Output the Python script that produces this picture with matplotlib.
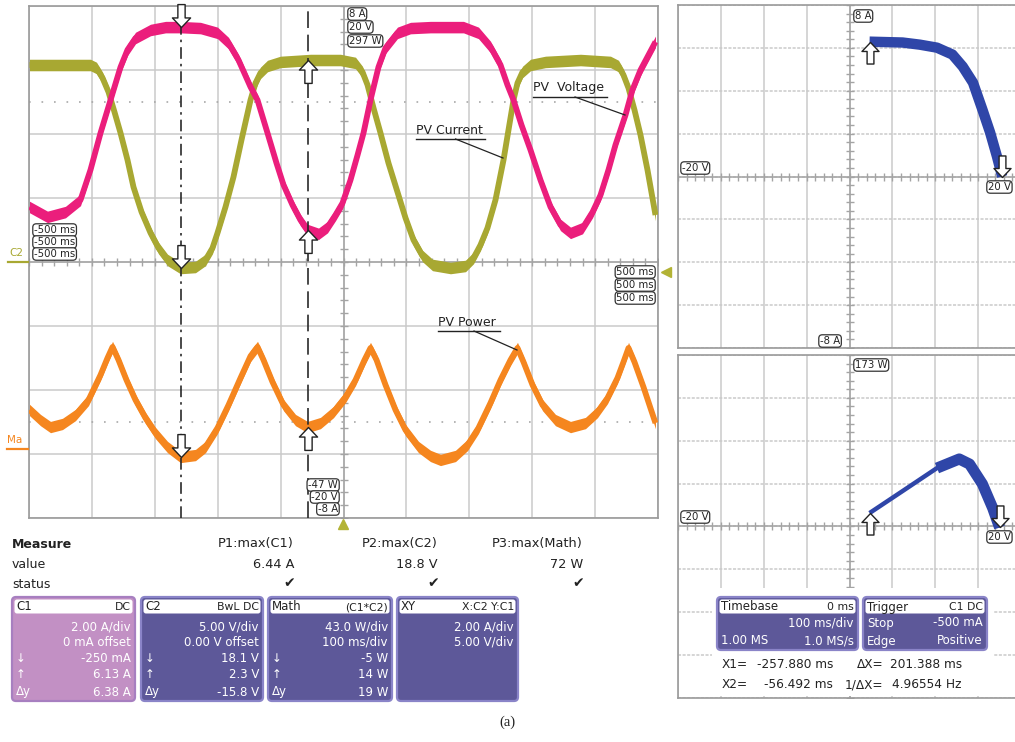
import numpy as np
import matplotlib
matplotlib.use("Agg")
import matplotlib.pyplot as plt
from matplotlib.path import Path
from matplotlib.patches import FancyBboxPatch, Rectangle

plt.rcParams["font.family"] = ["DejaVu Sans"]

# ---------------- data ----------------
# C1 trace (pink), time in ms, value in A (screen range -8..8 A)
c1_t = [-499.2, -470.6, -442.0, -418.1, -402.2, -386.3, -370.4, -354.5, -343.4, -330.6, -306.8,
        -282.9, -259.1, -227.3, -200.3, -182.8, -166.9, -147.8, -136.7, -120.8, -106.5, -95.4,
        -81.1, -68.4, -57.2, -39.7, -25.4, -12.7, -1.6, 11.1, 22.3, 31.8, 42.9, 55.6, 66.8,
        85.8, 106.5, 138.3, 190.8, 214.6, 233.7, 249.6, 260.7, 270.3, 283.0, 297.3, 313.2,
        329.1, 345.0, 360.9, 380.0, 395.9, 408.6, 421.3, 432.4, 448.3, 459.4, 472.2, 484.9,
        496.0]
c1_amp = [1.72, 1.41, 1.56, 1.94, 2.88, 4.03, 5.06, 6.09, 6.63, 7.0, 7.25, 7.34, 7.34, 7.31,
          7.16, 6.84, 6.31, 5.47, 5.06, 4.03, 3.09, 2.41, 1.78, 1.31, 1.0, 0.88, 1.09, 1.47,
          1.84, 2.56, 3.34, 4.03, 5.06, 6.09, 6.69, 7.16, 7.31, 7.34, 7.34, 7.16, 6.72, 6.16,
          5.53, 5.06, 4.28, 3.5, 2.56, 1.72, 1.16, 0.91, 1.06, 1.56, 2.09, 2.88, 3.66, 4.59,
          5.38, 6.0, 6.47, 6.88]

# C2 trace (olive), time in ms, value in V (screen range -20..20 V)
c2_t = [-499.2, -402.2, -392.7, -383.1, -373.6, -364.1, -354.5, -343.4, -333.9, -321.1, -306.8,
        -294.1, -279.8, -259.1, -235.3, -219.4, -208.3, -200.3, -187.6, -174.9, -162.2, -147.8,
        -139.9, -132.0, -120.8, -100.2, -52.5, -4.8, 19.1, 30.2, 38.2, 47.7, 58.8, 71.5, 85.8,
        98.6, 111.3, 125.6, 141.5, 170.1, 194.0, 206.7, 217.8, 228.9, 241.6, 254.4, 262.3,
        270.3, 276.6, 284.6, 297.3, 321.1, 376.8, 424.5, 437.2, 445.1, 453.1, 462.6, 472.2,
        483.3, 496.0]
c2_volt = [15.39, 15.39, 15.16, 14.38, 13.28, 11.72, 10.08, 7.97, 5.86, 3.91, 2.27, 1.09, 0.16,
           -0.47, -0.39, 0.16, 1.09, 2.27, 4.30, 6.64, 9.53, 12.66, 13.98, 14.77, 15.31, 15.63,
           15.78, 15.78, 15.55, 14.84, 13.83, 12.03, 10.08, 7.73, 5.47, 3.44, 1.72, 0.47, -0.23,
           -0.47, -0.31, 0.31, 1.33, 2.66, 4.84, 7.97, 10.31, 12.66, 13.98, 14.84, 15.39, 15.63,
           15.78, 15.63, 15.31, 14.61, 13.59, 11.88, 9.92, 7.19, 3.67]

# Math trace (orange) = C1*C2, time in ms, value in W (screen range -47..297 W)
m_t = [-499.2, -481.7, -465.8, -446.7, -426.1, -405.4, -386.3, -375.2, -367.2, -357.7, -345.0,
       -330.7, -314.8, -298.9, -279.8, -259.1, -235.3, -219.4, -200.3, -182.8, -163.7, -147.8,
       -136.7, -127.2, -112.9, -95.4, -76.3, -57.2, -36.6, -15.9, 3.2, 19.1, 33.4, 42.9, 52.5,
       66.8, 82.7, 98.6, 119.2, 138.3, 154.2, 178.1, 197.1, 214.6, 233.7, 249.6, 265.5, 276.6,
       286.2, 300.5, 316.4, 337.0, 360.9, 384.7, 403.8, 419.7, 435.6, 445.1, 453.1, 462.6,
       476.9, 488.0, 496.0]
m_watt = [25.6, 18.8, 14.1, 16.2, 22.2, 32.3, 49.1, 60.5, 67.9, 59.2, 45.7, 32.3, 20.2, 10.1,
          0.7, -6.0, -4.7, 0.7, 13.5, 28.9, 47.1, 61.8, 67.9, 59.2, 44.4, 28.9, 18.8, 14.1, 16.8,
          24.2, 34.3, 45.7, 59.2, 67.2, 59.2, 42.4, 25.6, 12.1, 0.7, -5.3, -8.0, -5.3, 2.0, 13.5,
          30.3, 45.7, 59.2, 67.2, 57.8, 42.4, 28.9, 18.8, 14.1, 16.8, 24.2, 33.6, 47.1, 57.8,
          67.2, 57.8, 41.0, 26.9, 16.8]

# XY displays
iv_volt = [2.34, 6.19, 8.2, 10.2, 12.0, 13.2, 14.4, 15.5, 16.4, 17.2, 17.8]
iv_amp = [6.29, 6.25, 6.15, 6.01, 5.69, 5.13, 4.38, 3.12, 2.05, 0.93, 0.0]
pv_volt = [2.34, 6.2, 10.2, 12.8, 14.0, 15.5, 16.7, 17.5]
pv_watt = [14.5, 36.6, 59.6, 68.7, 63.6, 43.6, 19.5, 0.0]

# cursors (ms)
X1 = -257.880
X2 = -56.492

# measurement / panel texts
meas_names = ["P1:max(C1)", "P2:max(C2)", "P3:max(Math)"]
meas_values = ["6.44 A", "18.8 V", "72 W"]
c1_rows = [("", "2.00 A/div"), ("", "0 mA offset"), ("↓", "-250 mA"), ("↑", "6.13 A"), ("Δy", "6.38 A")]
c2_rows = [("", "5.00 V/div"), ("", "0.00 V offset"), ("↓", "18.1 V"), ("↑", "2.3 V"), ("Δy", "-15.8 V")]
math_rows = [("", "43.0 W/div"), ("", "100 ms/div"), ("↓", "-5 W"), ("↑", "14 W"), ("Δy", "19 W")]
xy_rows = [("", "2.00 A/div"), ("", "5.00 V/div")]
tb_rows = [("", "100 ms/div"), ("1.00 MS", "1.0 MS/s")]
trig_rows = [("Stop", "-500 mA"), ("Edge", "Positive")]

# ---------------- figure ----------------
W, H = 1015, 742
fig = plt.figure(figsize=(W / 100, H / 100), dpi=100)
fig.patch.set_facecolor("white")

GRID = "#cacaca"
BORDER = "#9a9a9a"
PINK = "#eb1e7c"
OLIVE = "#a8a832"
ORANGE = "#f5861f"
BLUE = "#2f46a8"
PURPLE = "#5d5899"
LILAC = "#c290c4"


def rect(x0, y0, x1, y1):
    return [x0 / W, 1 - y1 / H, (x1 - x0) / W, (y1 - y0) / H]


def scope_axes(pos, xlim, ylim, ndx, ndy, hdots=False):
    ax = fig.add_axes(pos)
    ax.set_xlim(xlim)
    ax.set_ylim(ylim)
    xt = np.linspace(xlim[0], xlim[1], ndx + 1)
    yt = np.linspace(ylim[0], ylim[1], ndy + 1)
    ax.set_xticks(xt)
    ax.set_yticks(yt)
    ax.tick_params(length=0, labelbottom=False, labelleft=False)
    ax.grid(axis="x", color=GRID, lw=1.1)
    ax.grid(axis="y", color=GRID, lw=1.1, ls=(0, (2, 1)) if hdots else "-")
    ax.set_axisbelow(True)
    for s in ax.spines.values():
        s.set_color(BORDER)
        s.set_linewidth(1.2)
    xc = (xlim[0] + xlim[1]) / 2
    yc = (ylim[0] + ylim[1]) / 2
    ax.axhline(yc, color="#a9a9a9", lw=1.2, zorder=1)
    ax.axvline(xc, color="#a9a9a9", lw=1.2, zorder=1)
    mx = np.linspace(xlim[0], xlim[1], ndx * 5 + 1)
    my = np.linspace(ylim[0], ylim[1], ndy * 5 + 1)
    ax.plot(mx, np.full_like(mx, yc), ls="none", marker="|", ms=6, mew=1, color="#a4a4a4", zorder=1)
    ax.plot(np.full_like(my, xc), my, ls="none", marker="_", ms=6, mew=1, color="#a4a4a4", zorder=1)
    return ax


down_arrow = Path([(0, 0), (0.95, 1.0), (0.38, 1.0), (0.38, 2.4), (-0.38, 2.4), (-0.38, 1.0),
                   (-0.95, 1.0), (0, 0)],
                  [Path.MOVETO] + [Path.LINETO] * 6 + [Path.CLOSEPOLY])
up_arrow = Path([(0, 0), (0.95, -1.0), (0.38, -1.0), (0.38, -2.4), (-0.38, -2.4), (-0.38, -1.0),
                 (-0.95, -1.0), (0, 0)],
                [Path.MOVETO] + [Path.LINETO] * 6 + [Path.CLOSEPOLY])


def arrow(ax, x, y, kind, trans=None, ms=33):
    kw = {} if trans is None else {"transform": trans}
    ax.plot([x], [y], ls="none", marker=down_arrow if kind == "down" else up_arrow, ms=ms,
            mfc="white", mec="#222222", mew=1.0, zorder=6, clip_on=False, **kw)


def band(ax, t, y, color, lw, half):
    t = np.asarray(t, float)
    y = np.asarray(y, float)
    ax.fill_between(t, y - half, y + half, color=color, lw=0, zorder=3)
    ax.plot(t, y, color=color, lw=lw, solid_joinstyle="round", solid_capstyle="butt", zorder=3)


# ---- main time-domain screen ----
ax_v = scope_axes(rect(29, 6, 658, 518), (-500, 500), (-20, 20), 10, 8)
ax_v.axhline(12.5, color="#a8a8a8", lw=1.2, ls=(0, (1, 6.5)), zorder=1)
ax_v.axhline(-12.5, color="#a8a8a8", lw=1.2, ls=(0, (1, 6.5)), zorder=1)
ax_i = ax_v.twinx()
ax_i.set_ylim(-8, 8)
ax_i.set_axis_off()
ax_p = ax_v.twinx()
ax_p.set_ylim(-47, 297)
ax_p.set_axis_off()

band(ax_v, c2_t, c2_volt, OLIVE, 4.2, 0.45)
band(ax_i, c1_t, c1_amp, PINK, 4.2, 0.18)
band(ax_p, m_t, m_watt, ORANGE, 4.2, 3.8)

ax_p.axvline(X1, color="#2a2a2a", lw=1.2, ls=(0, (7, 3, 1.5, 3)), zorder=4)
ax_p.axvline(X2, color="#2a2a2a", lw=1.2, ls=(0, (10, 4)), zorder=4)

arrow(ax_p, X1, np.interp(X1, c1_t, c1_amp), "down", ax_i.transData)
arrow(ax_p, X1, np.interp(X1, c2_t, c2_volt), "down", ax_v.transData)
arrow(ax_p, X1, np.interp(X1, m_t, m_watt), "down")
arrow(ax_p, X2, np.interp(X2, c1_t, c1_amp), "up", ax_i.transData)
arrow(ax_p, X2, np.interp(X2, c2_t, c2_volt), "up", ax_v.transData)
arrow(ax_p, X2, np.interp(X2, m_t, m_watt), "up")

# ---- XY: current vs voltage ----
ax_xy1 = scope_axes(rect(678, 5, 1021, 348), (-20, 20), (-8, 8), 8, 8, hdots=True)
ax_xy1.plot(iv_volt, iv_amp, color=BLUE, lw=7.5, solid_capstyle="butt", solid_joinstyle="round", zorder=3)
arrow(ax_xy1, iv_volt[0], iv_amp[0], "up", ms=31)
arrow(ax_xy1, iv_volt[-1], iv_amp[-1], "down", ms=31)

# ---- XY: power vs voltage ----
ax_xy2 = scope_axes(rect(678, 355, 1021, 698), (-20, 20), (-171, 173), 8, 8, hdots=True)
pv_v = np.asarray(pv_volt)
pv_w = np.asarray(pv_watt)
ax_xy2.plot(pv_v, pv_w, color=BLUE, lw=3.2, solid_capstyle="butt", solid_joinstyle="round", zorder=3)
thick = pv_v >= 10
ax_xy2.plot(pv_v[thick], pv_w[thick], color=BLUE, lw=8, solid_capstyle="butt", solid_joinstyle="round", zorder=3)
arrow(ax_xy2, pv_volt[0], pv_watt[0], "up", ms=31)
arrow(ax_xy2, pv_volt[-1], pv_watt[-1], "down", ms=31)

# ---------------- overlay in pixel coordinates ----------------
ov = fig.add_axes([0, 0, 1, 1])
ov.set_xlim(0, W)
ov.set_ylim(H, 0)
ov.set_axis_off()
ov.patch.set_alpha(0)


def tag(x, y, s, ha="left", fs=7.3):
    ov.text(x, y, s, ha=ha, va="center", fontsize=fs, color="#222222",
            bbox=dict(boxstyle="round,pad=0.12,rounding_size=0.35", fc="white", ec="#333333", lw=0.9))


tag(349, 14, "8 A"); tag(349, 27, "20 V"); tag(349, 41, "297 W")
tag(338, 485, "-47 W", "right"); tag(338, 497, "-20 V", "right"); tag(338, 509, "-8 A", "right")
for yy in (230, 242, 254):
    tag(34, yy, "-500 ms")
for yy in (272, 285, 298):
    tag(654, yy, "500 ms", "right")
tag(855, 16, "8 A"); tag(682, 168, "-20 V"); tag(988, 187, "20 V"); tag(820, 341, "-8 A")
tag(855, 365, "173 W"); tag(682, 517, "-20 V"); tag(988, 537, "20 V")

# trace annotations
for txt, x0, x1, y, lx, ly in [("PV  Voltage", 533, 607, 88, 625, 115),
                                ("PV Current", 416, 485, 130, 503, 158),
                                ("PV Power", 438, 500, 322, 517, 350)]:
    ov.text(x0, y, txt, fontsize=9, va="center", color="#222222")
    ov.plot([x0, x1], [y + 9, y + 9], color="#222222", lw=1.0)
    ov.plot([(x0 + x1) / 2 + 5, lx], [y + 9, ly], color="#222222", lw=0.9)

# channel reference markers
ov.text(9, 253, "C2", color=OLIVE, fontsize=7.5, va="center")
ov.plot([8, 28], [262, 262], color=OLIVE, lw=1.6)
ov.text(7, 440, "Ma", color=ORANGE, fontsize=7.5, va="center")
ov.plot([7, 28], [449, 449], color=ORANGE, lw=1.6)
ov.plot([666], [272], marker="<", ms=7, color="#b3b335", ls="none")
ov.plot([343], [524], marker="^", ms=7, color="#b3b335", ls="none")

# measurement table
ov.text(12, 544, "Measure", fontsize=9, weight="bold", va="center", color="#222222")
ov.text(12, 564, "value", fontsize=9, va="center", color="#222222")
ov.text(12, 584, "status", fontsize=9, va="center", color="#222222")
for name, val, xr in zip(meas_names, meas_values, (294, 438, 583)):
    ov.text(xr, 544, name, fontsize=9.3, ha="right", va="center", color="#222222")
    ov.text(xr, 564, val, fontsize=9.3, ha="right", va="center", color="#222222")
    ov.text(xr - 5, 583, "✔", fontsize=10, ha="center", va="center", color="#222222")


def panel(x0, x1, y0, y1, fc, head, rows, row_y, ec="#8a84c8", hfs=8.5):
    ov.add_patch(FancyBboxPatch((x0, y0), x1 - x0, y1 - y0,
                                boxstyle="round,pad=0,rounding_size=4", fc=fc, ec=ec, lw=1.6))
    ov.add_patch(FancyBboxPatch((x0 + 2.5, y0 + 2.5), x1 - x0 - 5, 14,
                                boxstyle="round,pad=0,rounding_size=2.5", fc="white", ec="none"))
    ov.text(x0 + 4, y0 + 10, head[0], fontsize=hfs, va="center", color="#222222")
    ov.text(x1 - 4, y0 + 10, head[1], fontsize=hfs - 0.7, va="center", ha="right", color="#222222")
    for (l, r), yy in zip(rows, row_y):
        if l:
            ov.text(x0 + 4, yy, l, fontsize=8.5, va="center", color="white")
        ov.text(x1 - 4, yy, r, fontsize=8.5, va="center", ha="right", color="white")


rys = [627, 642, 658, 675, 692]
panel(12, 135, 597, 701, LILAC, ("C1", "DC"), c1_rows, rys, ec="#a77fc0")
panel(141, 263, 597, 701, PURPLE, ("C2", "BwL DC"), c2_rows, rys)
panel(268, 392, 597, 701, PURPLE, ("Math", "(C1*C2)"), math_rows, rys)
panel(397, 518, 597, 701, PURPLE, ("XY", "X:C2 Y:C1"), xy_rows, rys)

# timebase / trigger area inside lower XY screen
ov.add_patch(Rectangle((712, 588), 282, 108, fc="white", ec="none"))
panel(717, 858, 597, 650, PURPLE, ("Timebase", "0 ms"), tb_rows, [623, 641])
panel(863, 987, 597, 650, PURPLE, ("Trigger", "C1 DC"), trig_rows, [623, 641])

ov.text(722, 665, "X1=", fontsize=8.7, va="center", color="#222222")
ov.text(833, 665, f"{X1:.3f} ms", fontsize=8.7, va="center", ha="right", color="#222222")
ov.text(857, 665, "ΔX=", fontsize=8.7, va="center", color="#222222")
ov.text(962, 665, f"{X2 - X1:.3f} ms", fontsize=8.7, va="center", ha="right", color="#222222")
ov.text(722, 685, "X2=", fontsize=8.7, va="center", color="#222222")
ov.text(833, 685, f"{X2:.3f} ms", fontsize=8.7, va="center", ha="right", color="#222222")
ov.text(845, 685, "1/ΔX=", fontsize=8.7, va="center", color="#222222")
ov.text(962, 685, f"{1000.0 / (X2 - X1):.5f} Hz", fontsize=8.7, va="center", ha="right",
        color="#222222")

ov.text(507, 722, "(a)", fontsize=10.5, family="Liberation Serif", ha="center", va="center",
        color="#222222")

fig.savefig("out.png", dpi=100, facecolor="white")
